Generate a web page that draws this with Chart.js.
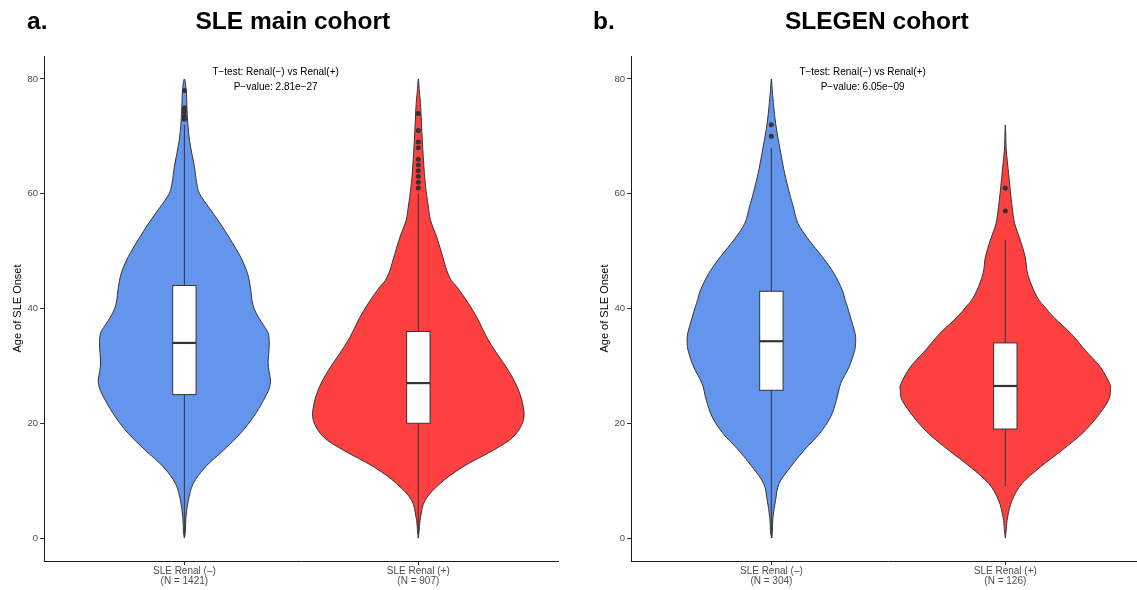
<!DOCTYPE html>
<html><head><meta charset="utf-8">
<script src="https://cdn.jsdelivr.net/npm/chart.js@4/dist/chart.umd.min.js"></script>
<style>
html,body{margin:0;padding:0;background:#fff;overflow:hidden;width:1137px;height:590px;position:relative;}
#wrapA{position:absolute;left:0;top:0;width:570px;height:590px;}
#wrapB{position:absolute;left:587px;top:0;width:570px;height:590px;}
canvas{display:block;}
</style></head><body>
<div id="wrapA"><canvas id="cA" width="570" height="590"></canvas></div>
<div id="wrapB"><canvas id="cB" width="570" height="590"></canvas></div>
<script>
// ---------- data ----------
const yTicks = [0, 20, 40, 60, 80];
const xCategories = ['SLE Renal (–)', 'SLE Renal (+)'];
const mainCounts = ['(N = 1421)', '(N = 907)'];
const slegenCounts = ['(N = 304)', '(N = 126)'];
const panelTags = ['a.', 'b.'];
const panelTitles = ['SLE main cohort', 'SLEGEN cohort'];
const testLabel = 'T\u2212test: Renal(\u2212) vs Renal(+)';
const pValues = ['P\u2212value: 2.81e\u221227', 'P\u2212value: 6.05e\u221209'];

// violin density profiles: age grid and half-width (in category units)
const mainNegAge   = [0, 1, 3.7, 6.6, 9.5, 12.4, 15.3, 18.2, 21.1, 24, 26, 27.5, 29, 30.5, 32, 34, 35.7, 37, 38.5, 40, 41.4, 43.2, 46.1, 49, 52, 54.9, 57.7, 60, 62, 64.7, 67, 69.3, 72, 75, 78, 80];
const mainNegWidth = [0, 0.004, 0.007, 0.017, 0.038, 0.09, 0.167, 0.239, 0.295, 0.338, 0.362, 0.368, 0.362, 0.358, 0.36, 0.363, 0.358, 0.34, 0.316, 0.298, 0.289, 0.284, 0.27, 0.24, 0.197, 0.152, 0.103, 0.065, 0.052, 0.043, 0.032, 0.022, 0.015, 0.011, 0.008, 0];
const mainPosAge   = [0, 1.5, 3.7, 6.6, 9.5, 12.4, 15.3, 17.6, 20.5, 23.4, 26.3, 29.2, 32.2, 35, 38, 40.9, 43.8, 44.9, 46.7, 49.6, 52.5, 55.4, 57.7, 60, 63.5, 69.3, 75.2, 78, 80];
const mainPosWidth = [0, 0.004, 0.010, 0.029, 0.093, 0.19, 0.32, 0.405, 0.449, 0.446, 0.423, 0.385, 0.335, 0.292, 0.256, 0.214, 0.164, 0.141, 0.121, 0.100, 0.078, 0.052, 0.043, 0.035, 0.026, 0.017, 0.010, 0.004, 0];
const slegenNegAge   = [0, 1, 3.7, 6.6, 9.5, 12.4, 15.3, 18.2, 21.1, 24, 26.9, 29.8, 32.7, 34.2, 35.6, 38.5, 40.3, 41.4, 43.2, 46.1, 49, 51.9, 54.8, 57.7, 60, 63.5, 66.4, 69.3, 72.3, 75.2, 78, 80];
const slegenNegWidth = [0.002, 0.004, 0.007, 0.018, 0.033, 0.082, 0.14, 0.206, 0.253, 0.278, 0.296, 0.332, 0.356, 0.360, 0.358, 0.338, 0.325, 0.316, 0.303, 0.268, 0.218, 0.161, 0.114, 0.094, 0.078, 0.057, 0.043, 0.030, 0.018, 0.010, 0.004, 0];
const slegenPosAge   = [0, 1.5, 3.7, 6.6, 9.5, 12.4, 15.3, 18.2, 21.1, 24, 25.75, 26.9, 29.8, 32.7, 35.6, 38.5, 40.3, 41.4, 43.2, 46.1, 49, 51.9, 54.8, 57.7, 60.6, 63.5, 67.6, 70, 72];
const slegenPosWidth = [0, 0.004, 0.010, 0.029, 0.071, 0.150, 0.242, 0.328, 0.392, 0.441, 0.449, 0.446, 0.406, 0.342, 0.281, 0.206, 0.168, 0.145, 0.121, 0.095, 0.085, 0.064, 0.040, 0.029, 0.021, 0.014, 0.004, 0.002, 0];

// box stats: [lower whisker, Q1, median, Q3, upper whisker]
const mainNegBox = [0, 25, 34, 44, 72];
const mainPosBox = [0, 20, 27, 36, 60];
const slegenNegBox = [0, 25.75, 34.3, 43, 68];
const slegenPosBox = [9, 19, 26.5, 34, 52];

// outliers
const mainNegOut = [73, 73.5, 74.3, 75, 78];
const mainPosOut = [61, 62, 63, 64, 65, 66, 68, 69, 71, 74];
const slegenNegOut = [70, 72];
const slegenPosOut = [57, 61];

// ---------- styles ----------
const FONT = "'Liberation Sans', Arial, Helvetica, sans-serif";
const COLORS = ['#6495ED', '#FF4040'];
const LINE = '#333333';
const BOX_HALF = 0.05;
const ANNOT_X = 1.39, ANNOT_Y = 80;

function curvePath(ctx, pts) {
  const n = pts.length;
  ctx.moveTo(pts[0][0], pts[0][1]);
  for (let i = 0; i < n - 1; i++) {
    const p0 = pts[i - 1] || pts[i], p1 = pts[i], p2 = pts[i + 1], p3 = pts[i + 2] || pts[i + 1];
    const c1x = p1[0] + (p2[0] - p0[0]) / 6, c1y = p1[1] + (p2[1] - p0[1]) / 6;
    const c2x = p2[0] - (p3[0] - p1[0]) / 6, c2y = p2[1] - (p3[1] - p1[1]) / 6;
    ctx.bezierCurveTo(c1x, c1y, c2x, c2y, p2[0], p2[1]);
  }
  ctx.closePath();
}

function makePanel(canvasId, idx, violins, boxes, outliers, counts) {
  const plugin = {
    id: 'violins' + idx,
    beforeDatasetsDraw(chart) {
      const ctx = chart.ctx, xs = chart.scales.x, ys = chart.scales.y;
      violins.forEach((v, i) => {
        const c = i + 1;
        const pts = [];
        for (let k = 0; k < v.age.length; k++) pts.push([xs.getPixelForValue(c + v.w[k]), ys.getPixelForValue(v.age[k])]);
        for (let k = v.age.length - 2; k >= 1; k--) pts.push([xs.getPixelForValue(c - v.w[k]), ys.getPixelForValue(v.age[k])]);
        ctx.save();
        ctx.beginPath();
        curvePath(ctx, pts);
        ctx.fillStyle = COLORS[i];
        ctx.fill();
        ctx.strokeStyle = LINE; ctx.lineWidth = 1;
        ctx.stroke();
        ctx.restore();
      });
      boxes.forEach((s, i) => {
        const c = i + 1;
        const cx = xs.getPixelForValue(c);
        const xl = xs.getPixelForValue(c - BOX_HALF), xr = xs.getPixelForValue(c + BOX_HALF);
        const [lo, q1, med, q3, hi] = s.map(v => ys.getPixelForValue(v));
        ctx.save();
        ctx.strokeStyle = LINE; ctx.lineWidth = 1;
        ctx.beginPath(); ctx.moveTo(cx, lo); ctx.lineTo(cx, q1); ctx.moveTo(cx, q3); ctx.lineTo(cx, hi); ctx.stroke();
        ctx.fillStyle = '#fff'; ctx.fillRect(xl, q3, xr - xl, q1 - q3);
        ctx.strokeRect(xl, q3, xr - xl, q1 - q3);
        ctx.lineWidth = 2.2;
        ctx.beginPath(); ctx.moveTo(xl, med); ctx.lineTo(xr, med); ctx.stroke();
        ctx.restore();
      });
    },
    afterDraw(chart) {
      const ctx = chart.ctx, xs = chart.scales.x, ys = chart.scales.y;
      ctx.save();
      ctx.fillStyle = '#000';
      ctx.font = '10px ' + FONT;
      ctx.textAlign = 'center';
      ctx.textBaseline = 'alphabetic';
      const ax = xs.getPixelForValue(ANNOT_X), ay = ys.getPixelForValue(ANNOT_Y);
      ctx.fillText(testLabel, ax, ay - 4.3);
      ctx.fillText(pValues[idx], ax, ay + 11.4);
      ctx.font = 'bold 24.5px ' + FONT;
      const mid = (chart.chartArea.left + chart.chartArea.right) / 2;
      ctx.fillText(panelTitles[idx], mid - (idx === 0 ? 8.5 : 11.5), 29);
      ctx.textAlign = 'left';
      ctx.fillText(panelTags[idx], idx === 0 ? 27 : 6, 29);
      ctx.restore();
    }
  };
  const axisCommon = {
    grid: { display: true, drawOnChartArea: false, drawTicks: true, tickLength: 4, color: LINE, lineWidth: 1 },
    border: { display: true, color: '#1a1a1a', width: 1 },
  };
  return new Chart(document.getElementById(canvasId), {
    type: 'scatter',
    data: {
      datasets: outliers.map((o, i) => ({
        data: o.map(v => ({ x: i + 1, y: v })),
        pointRadius: 2.5, pointBackgroundColor: LINE, pointBorderWidth: 0, showLine: false
      }))
    },
    options: {
      responsive: false, animation: false, events: [],
      layout: { padding: { left: 0, top: 56, right: 11.3, bottom: 0 } },
      plugins: { legend: { display: false }, tooltip: { enabled: false }, title: { display: false } },
      scales: {
        x: Object.assign({
          type: 'linear', min: 0.4, max: 2.6,
          afterBuildTicks: s => { s.ticks = xCategories.map((_, i) => ({ value: i + 1 })); },
          afterFit: s => { s.height = 29; },
          ticks: {
            color: '#4d4d4d', font: { family: FONT, size: 10, lineHeight: 1.0 }, padding: 1,
            maxRotation: 0, autoSkip: false,
            callback: v => { const k = Math.round(v) - 1; return [xCategories[k], counts[k]]; }
          }
        }, axisCommon),
        y: Object.assign({
          type: 'linear', min: -4, max: 84,
          afterBuildTicks: s => { s.ticks = yTicks.map(v => ({ value: v })); },
          afterFit: s => { s.width = 44; },
          ticks: { color: '#4d4d4d', font: { family: FONT, size: 9.5 }, padding: 2 },
          title: { display: true, text: 'Age of SLE Onset', color: '#000', font: { family: FONT, size: 11 }, padding: { top: 11.7, bottom: 0 } }
        }, axisCommon)
      }
    },
    plugins: [plugin]
  });
}

makePanel('cA', 0,
  [{ age: mainNegAge, w: mainNegWidth }, { age: mainPosAge, w: mainPosWidth }],
  [mainNegBox, mainPosBox], [mainNegOut, mainPosOut], mainCounts);
makePanel('cB', 1,
  [{ age: slegenNegAge, w: slegenNegWidth }, { age: slegenPosAge, w: slegenPosWidth }],
  [slegenNegBox, slegenPosBox], [slegenNegOut, slegenPosOut], slegenCounts);
</script>
</body></html>
